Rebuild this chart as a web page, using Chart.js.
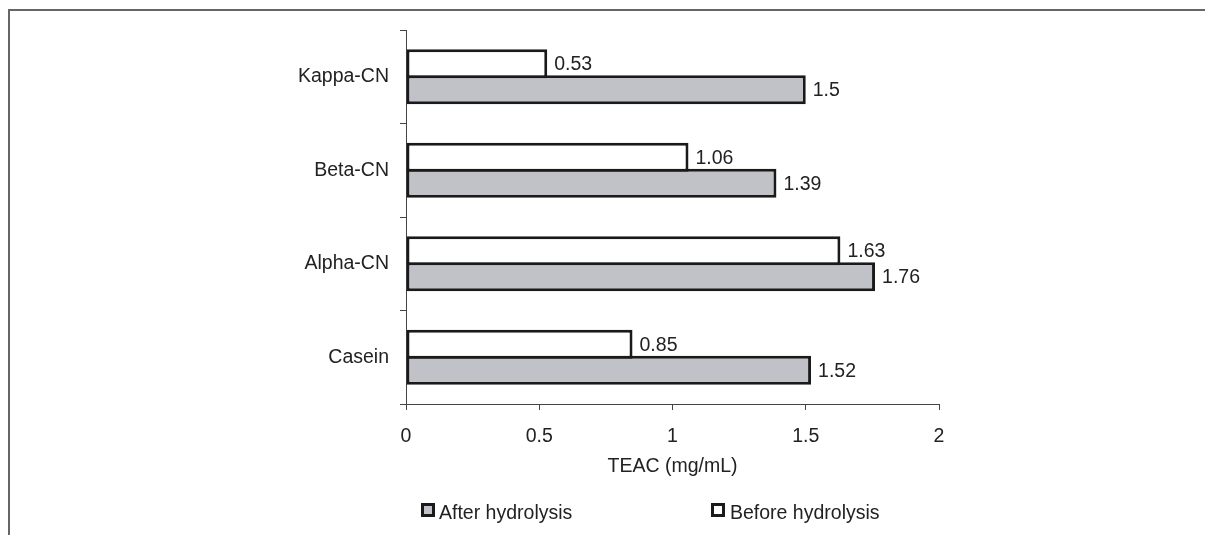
<!DOCTYPE html>
<html lang="en">

<head>
  <meta charset="UTF-8">
  <title>TEAC before and after hydrolysis</title>
  <script src="https://cdn.jsdelivr.net/npm/chart.js"></script>
  <style>
    html, body { margin: 0; padding: 0; background: #fff; }
    #wrap { position: relative; width: 1205px; height: 535px; overflow: hidden; }
    #frame { position: absolute; left: 8px; top: 9px; right: -4px; bottom: -4px; border-left: 2px solid #666; border-top: 2px solid #666; }
    #chart { position: absolute; left: 0; top: 0; }
    .leg { position: absolute; top: 503px; font: 19.5px "Liberation Sans", Arial, sans-serif; color: #222; line-height: 20px; white-space: nowrap; }
    .leg .box { position: absolute; left: 0; top: 0; width: 14px; height: 14px; box-sizing: border-box; border: 3px solid #1a1a1a; }
    .leg .txt { position: absolute; top: -1px; }
  </style>
</head>

<body>
  <div id="wrap">
    <div id="frame"></div>
    <canvas id="chart" width="1205" height="535"></canvas>
    <div id="legend"></div>
  </div>
  <script>
    // values
    const categories = ['Kappa-CN', 'Beta-CN', 'Alpha-CN', 'Casein']
    const beforeHydrolysis = [0.53, 1.06, 1.63, 0.85]
    const afterHydrolysis = [1.5, 1.39, 1.76, 1.52]
    const xTicks = [0, 0.5, 1, 1.5, 2]
    const axisTitle = 'TEAC (mg/mL)'

    const FONT = '"Liberation Sans", Arial, sans-serif'
    const INK = '#222'
    const GRAY = '#c0c2c8'

    // print each bar's value just past its end
    const valueLabels = {
      id: 'valueLabels',
      afterDatasetsDraw(chart) {
        const ctx = chart.ctx
        ctx.save()
        ctx.font = `19.5px ${FONT}`
        ctx.fillStyle = INK
        ctx.textAlign = 'left'
        ctx.textBaseline = 'middle'
        chart.data.datasets.forEach((ds, i) => {
          chart.getDatasetMeta(i).data.forEach((bar, j) => {
            ctx.fillText(String(ds.data[j]), bar.x + 7, bar.y + 1)
          })
        })
        ctx.restore()
      }
    }

    const chart = new Chart(document.getElementById('chart'), {
      type: 'bar',
      data: {
        labels: categories,
        datasets: [
          {
            label: 'Before hydrolysis',
            data: beforeHydrolysis,
            backgroundColor: '#ffffff',
            borderColor: '#1a1a1a',
            borderWidth: 3,
            borderSkipped: false
          },
          {
            label: 'After hydrolysis',
            data: afterHydrolysis,
            backgroundColor: GRAY,
            borderColor: '#1a1a1a',
            borderWidth: 3,
            borderSkipped: false
          }
        ]
      },
      options: {
        indexAxis: 'y',
        responsive: false,
        animation: false,
        devicePixelRatio: 1,
        categoryPercentage: 0.556,
        barPercentage: 1.115,
        layout: { padding: { left: 0, top: 30, right: 266, bottom: 51 } },
        plugins: {
          legend: { display: false },
          tooltip: { enabled: false }
        },
        scales: {
          x: {
            type: 'linear',
            min: xTicks[0],
            max: xTicks[xTicks.length - 1],
            afterBuildTicks: s => { s.ticks = xTicks.map(v => ({ value: v })) },
            afterFit: s => { s.height = 80 },
            ticks: {
              color: INK,
              font: { family: FONT, size: 19.5 },
              padding: 15,
              maxRotation: 0,
              callback: v => String(v)
            },
            grid: { drawOnChartArea: false, tickLength: 6, color: '#444', lineWidth: 1 },
            border: { display: true, color: '#444', width: 1 },
            title: {
              display: true,
              text: axisTitle,
              color: INK,
              font: { family: FONT, size: 19.5 },
              padding: { top: 0, bottom: 6 }
            }
          },
          y: {
            afterFit: s => { s.width = 406 },
            ticks: { color: INK, font: { family: FONT, size: 19.5 }, padding: 11 },
            grid: { drawOnChartArea: false, tickLength: 6, color: '#444', lineWidth: 1, offset: true },
            border: { display: true, color: '#444', width: 1 }
          }
        }
      },
      plugins: [valueLabels]
    })

    // legend under the axis title: After first, then Before
    const legendDiv = document.getElementById('legend')
    const legendSpots = [{ box: 421, text: 439 }, { box: 711, text: 730 }]
    chart.data.datasets.slice().reverse().forEach((ds, i) => {
      const spot = legendSpots[i]
      legendDiv.innerHTML += `<div class="leg" style="left:${spot.box}px"><span class="box" style="background:${ds.backgroundColor}"></span><span class="txt" style="left:${spot.text - spot.box}px">${ds.label}</span></div>`
    })
  </script>
</body>

</html>
